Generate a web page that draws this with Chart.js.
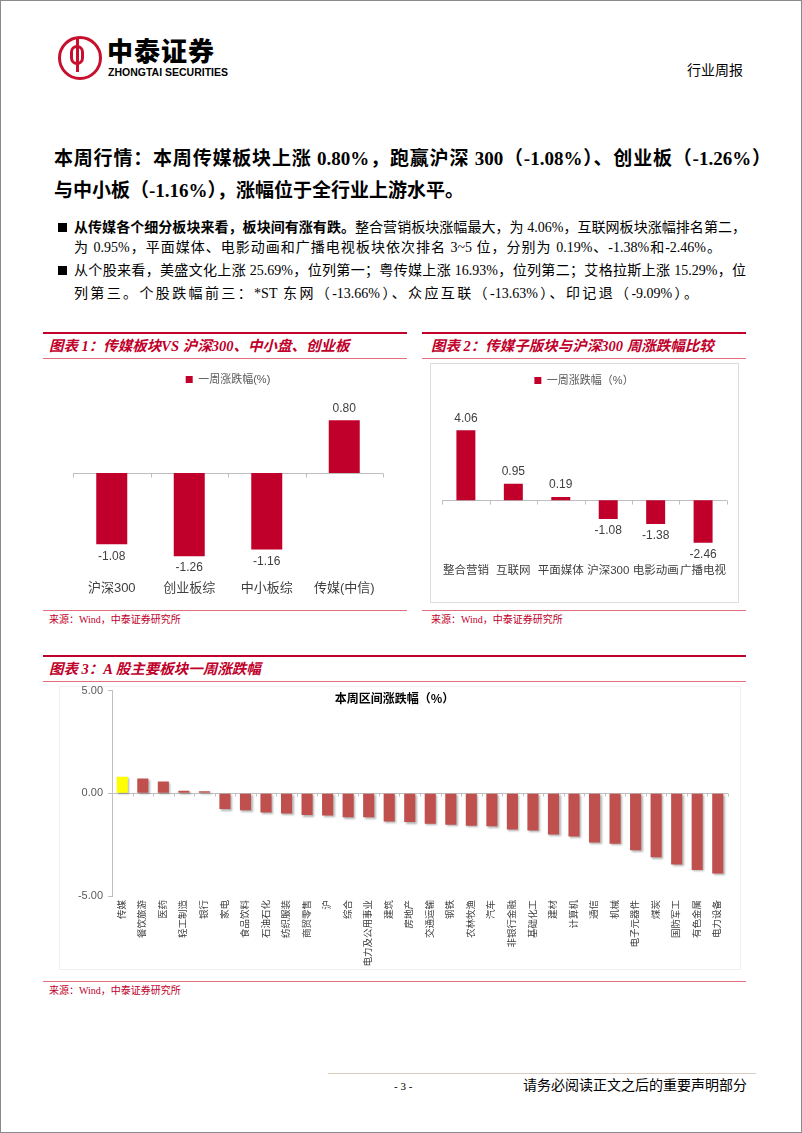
<!DOCTYPE html>
<html>
<head>
<meta charset="utf-8">
<script src="https://cdn.jsdelivr.net/npm/chart.js@4.4.1/dist/chart.umd.min.js"></script>
<style>
  html, body { margin: 0; padding: 0; background: #fff; }
  #page { position: relative; width: 802px; height: 1133px; box-sizing: border-box; border: 1px solid #8a8a8a; overflow: hidden;
    font-family: "Liberation Serif", "Noto Sans CJK SC", serif; color: #000; }
  .abs { position: absolute; white-space: nowrap; }
  .logo-ring { position: absolute; left: 57px; top: 35px; width: 38px; height: 38px; border: 3px solid #c8102e; border-radius: 50%; }
  .logo-in { position: absolute; left: 69px; top: 44px; width: 14px; height: 20px; border: 3px solid #c8102e; border-radius: 7px; box-sizing: border-box; }
  .logo-bar { position: absolute; left: 75px; top: 38px; width: 3px; height: 33px; background: #c8102e; }
  .head { font-size: 19px; font-weight: bold; width: 717px; text-align: justify; text-align-last: justify; }
  .txt { font-size: 14px; text-align: justify; text-align-last: justify; }
  .sq { position: absolute; width: 9px; height: 9px; background: #000; }
  .thick { position: absolute; height: 2px; background: #c0002b; }
  .thin { position: absolute; height: 1px; background: #e0707f; }
  .ttl { font-size: 14.5px; font-weight: bold; font-style: italic; color: #c0002b; }
  .src { font-size: 10px; color: #c0002b; }
  canvas { position: absolute; }
</style>
</head>
<body>
<div id="page">
  <div class="logo-ring"></div>
  <div class="logo-in"></div>
  <div class="logo-bar"></div>
  <div class="abs" style="left:106px;top:34px;font-family:'Noto Sans CJK SC';font-weight:900;font-size:26px;line-height:30px;letter-spacing:1px;">中泰证券</div>
  <div class="abs" style="left:107px;top:65px;font-family:'Liberation Sans';font-weight:bold;font-size:10.5px;line-height:12px;">ZHONGTAI SECURITIES</div>
  <div class="abs" style="left:686px;top:61px;font-size:14px;line-height:18px;">行业周报</div>

  <div class="abs head" style="left:53px;top:145px;line-height:26px;">本周行情：本周传媒板块上涨 0.80%，跑赢沪深 300（-1.08%）、创业板（-1.26%）</div>
  <div class="abs" style="left:53px;top:177px;line-height:26px;font-size:19px;font-weight:bold;">与中小板（-1.16%），涨幅位于全行业上游水平。</div>

  <div class="sq" style="left:57px;top:222px;"></div>
  <div class="abs txt" style="left:73px;top:218px;width:672px;line-height:18px;"><b>从传媒各个细分板块来看，板块间有涨有跌。</b>整合营销板块涨幅最大，为 4.06%，互联网板块涨幅排名第二，</div>
  <div class="abs txt" style="left:73px;top:238px;width:647px;line-height:18px;">为 0.95%，平面媒体、电影动画和广播电视板块依次排名 3~5 位，分别为 0.19%、-1.38%和-2.46%。</div>
  <div class="sq" style="left:57px;top:265px;"></div>
  <div class="abs txt" style="left:73px;top:261px;width:672px;line-height:18px;">从个股来看，美盛文化上涨 25.69%，位列第一；粤传媒上涨 16.93%，位列第二；艾格拉斯上涨 15.29%，位</div>
  <div class="abs txt" style="left:73px;top:284px;width:624px;line-height:18px;">列第三。个股跌幅前三：*ST 东网（-13.66%）、众应互联（-13.63%）、印记退（-9.09%）。</div>

  <!-- chart 1 frame -->
  <div class="thick" style="left:42px;top:331px;width:364px;"></div>
  <div class="abs ttl" style="left:48px;top:336px;line-height:18px;">图表 1：传媒板块VS 沪深300、中小盘、创业板</div>
  <div class="thin" style="left:42px;top:357px;width:364px;"></div>
  <canvas id="chart1" width="364" height="240" style="left:42px;top:362px;"></canvas>
  <div class="thin" style="left:42px;top:609px;width:364px;"></div>
  <div class="abs src" style="left:48px;top:612px;line-height:14px;">来源：Wind，中泰证券研究所</div>

  <!-- chart 2 frame -->
  <div class="thick" style="left:421px;top:331px;width:324px;"></div>
  <div class="abs ttl" style="left:430px;top:336px;line-height:18px;">图表 2：传媒子版块与沪深300 周涨跌幅比较</div>
  <div class="thin" style="left:421px;top:357px;width:324px;"></div>
  <div style="position:absolute;left:429px;top:362px;width:309px;height:240px;border:1px solid #dcdcdc;box-sizing:border-box;"></div>
  <canvas id="chart2" width="309" height="240" style="left:429px;top:362px;"></canvas>
  <div class="thin" style="left:421px;top:609px;width:324px;"></div>
  <div class="abs src" style="left:430px;top:612px;line-height:14px;">来源：Wind，中泰证券研究所</div>

  <!-- chart 3 frame -->
  <div class="thick" style="left:42px;top:654px;width:703px;"></div>
  <div class="abs ttl" style="left:48px;top:659px;line-height:18px;">图表 3：A 股主要板块一周涨跌幅</div>
  <div class="thin" style="left:42px;top:680px;width:703px;"></div>
  <div style="position:absolute;left:58px;top:685px;width:682px;height:284px;border:1px solid #f0f0f0;box-sizing:border-box;"></div>
  <canvas id="chart3" width="703" height="297" style="left:42px;top:678px;"></canvas>
  <div class="thin" style="left:42px;top:980px;width:703px;"></div>
  <div class="abs src" style="left:48px;top:983px;line-height:14px;">来源：Wind，中泰证券研究所</div>

  <!-- footer -->
  <div style="position:absolute;left:327px;top:1072px;width:428px;height:1px;background:#d9cbbd;"></div>
  <div class="abs" style="left:393px;top:1078px;font-size:11px;line-height:14px;">- 3 -</div>
  <div class="abs" style="left:522px;top:1076px;font-size:14px;line-height:18px;">请务必阅读正文之后的重要声明部分</div>
</div>

<script>
// chart 1: 传媒板块 vs 指数
const c1Labels = ["沪深300", "创业板综", "中小板综", "传媒(中信)"];
const c1Values = [-1.08, -1.26, -1.16, 0.80];
const c1Series = "一周涨跌幅(%)";

// chart 2: 传媒子版块
const c2Labels = ["整合营销", "互联网", "平面媒体", "沪深300", "电影动画", "广播电视"];
const c2Values = [4.06, 0.95, 0.19, -1.08, -1.38, -2.46];
const c2Series = "一周涨跌幅（%）";

// chart 3: A股主要板块
const c3Labels = ["传媒", "餐饮旅游", "医药", "轻工制造", "银行", "家电", "食品饮料", "石油石化", "纺织服装", "商贸零售",
  "沪", "综合", "电力及公用事业", "建筑", "房地产", "交通运输", "钢铁", "农林牧渔", "汽车", "非银行金融",
  "基础化工", "建材", "计算机", "通信", "机械", "电子元器件", "煤炭", "国防军工", "有色金属", "电力设备"];
const c3Values = [0.80, 0.72, 0.57, 0.13, 0.10, -0.77, -0.83, -0.94, -0.98, -1.06,
  -1.08, -1.16, -1.16, -1.37, -1.40, -1.48, -1.53, -1.58, -1.61, -1.76,
  -1.81, -2.00, -2.10, -2.39, -2.46, -2.77, -3.11, -3.47, -3.73, -3.91];
const c3Ticks = [-5, 0, 5];
const c3Title = "本周区间涨跌幅（%）";
const c3Highlight = "传媒";

Chart.defaults.font.family = '"Liberation Sans", "Noto Sans CJK SC", sans-serif';
Chart.defaults.color = "#404040";

// 零轴 + 分类刻度
const zeroAxis = {
  id: "zeroAxis",
  beforeDatasetsDraw(chart, args, opts) {
    const { ctx, chartArea, scales: { x, y } } = chart;
    const y0 = Math.round(y.getPixelForValue(0)) + 0.5;
    ctx.save();
    ctx.strokeStyle = opts.color || "#bfbfbf";
    ctx.lineWidth = 1;
    ctx.beginPath();
    ctx.moveTo(chartArea.left, y0);
    ctx.lineTo(chartArea.right, y0);
    for (let i = 0; i <= x.ticks.length; i++) {
      const px = Math.round(x.getPixelForValue(i - 0.5)) + 0.5;
      ctx.moveTo(px, y0);
      ctx.lineTo(px, y0 + (opts.tick || 4));
    }
    ctx.stroke();
    ctx.restore();
  }
};

// 数值标签
const valueLabels = {
  id: "valueLabels",
  afterDatasetsDraw(chart, args, opts) {
    const { ctx } = chart;
    const meta = chart.getDatasetMeta(0);
    const data = chart.data.datasets[0].data;
    ctx.save();
    ctx.font = (opts.size || 12) + 'px "Liberation Sans", sans-serif';
    ctx.fillStyle = "#404040";
    ctx.textAlign = "center";
    ctx.textBaseline = "middle";
    meta.data.forEach((bar, i) => {
      const v = data[i];
      const yy = v >= 0 ? bar.y - opts.offset : bar.y + opts.offset;
      ctx.fillText(v.toFixed(2), bar.x, yy);
    });
    ctx.restore();
  }
};

// 图例下方留白
const legendGap = {
  id: "legendGap",
  beforeUpdate(chart, args, opts) {
    const lg = chart.legend;
    if (!lg || lg._gapPatched) return;
    const fit = lg.fit;
    lg.fit = function () { fit.call(this); this.height += opts.gap || 0; };
    lg._gapPatched = true;
  }
};

// 图内标题
const innerTitle = {
  id: "innerTitle",
  afterDraw(chart, args, opts) {
    const { ctx } = chart;
    ctx.save();
    ctx.font = 'bold 12px "Noto Sans CJK SC", sans-serif';
    ctx.fillStyle = "#000";
    ctx.textAlign = "center";
    ctx.textBaseline = "middle";
    ctx.fillText(opts.text, chart.width / 2 + (opts.dx || 0), opts.y);
    ctx.restore();
  }
};

// 柱子阴影
const barShadow = {
  id: "barShadow",
  beforeDatasetDraw(chart) {
    const ctx = chart.ctx;
    ctx.save();
    ctx.shadowColor = "rgba(0,0,0,0.3)";
    ctx.shadowBlur = 2;
    ctx.shadowOffsetX = 1.5;
    ctx.shadowOffsetY = 1.5;
  },
  afterDatasetDraw(chart) {
    chart.ctx.restore();
  }
};

function legendOpts() {
  return {
    display: true,
    position: "top",
    labels: { boxWidth: 7, boxHeight: 7, padding: 10, color: "#595959", font: { size: 11 } }
  };
}

new Chart(document.getElementById("chart1"), {
  type: "bar",
  data: {
    labels: c1Labels,
    datasets: [{ label: c1Series, data: c1Values, backgroundColor: "#c0002b", barPercentage: 0.4, categoryPercentage: 1 }]
  },
  options: {
    responsive: false,
    animation: false,
    layout: { padding: { left: 30, right: 24, top: 1, bottom: 0 } },
    plugins: {
      legend: legendOpts(),
      tooltip: { enabled: false },
      legendGap: { gap: 12 },
      zeroAxis: { color: "#bfbfbf", tick: 4 },
      valueLabels: { offset: 12, size: 12 }
    },
    scales: {
      x: {
        grid: { display: false, drawTicks: false },
        border: { display: false },
        ticks: { padding: 9, font: { size: 13 }, color: "#404040" },
        afterFit: s => { s.height = 31; }
      },
      y: { display: false, min: -1.5, max: 1.0 }
    }
  },
  plugins: [legendGap, zeroAxis, valueLabels]
});

new Chart(document.getElementById("chart2"), {
  type: "bar",
  data: {
    labels: c2Labels,
    datasets: [{ label: c2Series, data: c2Values, backgroundColor: "#c0002b", barPercentage: 0.4, categoryPercentage: 1 }]
  },
  options: {
    responsive: false,
    animation: false,
    layout: { padding: { left: 11, right: 12, top: 2, bottom: 0 } },
    plugins: {
      legend: legendOpts(),
      tooltip: { enabled: false },
      legendGap: { gap: 18 },
      zeroAxis: { color: "#bfbfbf", tick: 4 },
      valueLabels: { offset: 12, size: 12 }
    },
    scales: {
      x: {
        grid: { display: false, drawTicks: false },
        border: { display: false },
        ticks: { padding: 12, font: { size: 11.5 }, color: "#404040", autoSkip: false, maxRotation: 0 },
        afterFit: s => { s.height = 51; }
      },
      y: { display: false, min: -3, max: 5 }
    }
  },
  plugins: [legendGap, zeroAxis, valueLabels]
});

new Chart(document.getElementById("chart3"), {
  type: "bar",
  data: {
    labels: c3Labels,
    datasets: [{
      label: c3Title,
      data: c3Values,
      backgroundColor: c3Labels.map(l => l === c3Highlight ? "#ffff00" : "#c0504d"),
      barPercentage: 0.54,
      categoryPercentage: 1
    }]
  },
  options: {
    responsive: false,
    animation: false,
    layout: { padding: { left: 0, right: 18, top: 2, bottom: 0 } },
    plugins: {
      legend: { display: false },
      tooltip: { enabled: false },
      zeroAxis: { color: "#bfbfbf", tick: 3 },
      innerTitle: { text: c3Title, y: 19 }
    },
    scales: {
      x: {
        grid: { display: false, drawTicks: false },
        border: { display: false },
        ticks: { padding: 4, font: { size: 9.5 }, color: "#404040", autoSkip: false, minRotation: 90, maxRotation: 90 },
        afterFit: s => { s.height = 80; }
      },
      y: {
        min: -5,
        max: 5,
        afterBuildTicks: s => { s.ticks = c3Ticks.map(v => ({ value: v })); },
        grid: { drawOnChartArea: false, tickLength: 4, color: "#bfbfbf" },
        border: { color: "#bfbfbf" },
        ticks: { padding: 5, font: { size: 11 }, color: "#595959", callback: v => v.toFixed(2) },
        afterFit: s => { s.width = 69; }
      }
    }
  },
  plugins: [zeroAxis, barShadow, innerTitle]
});
</script>
</body>
</html>
